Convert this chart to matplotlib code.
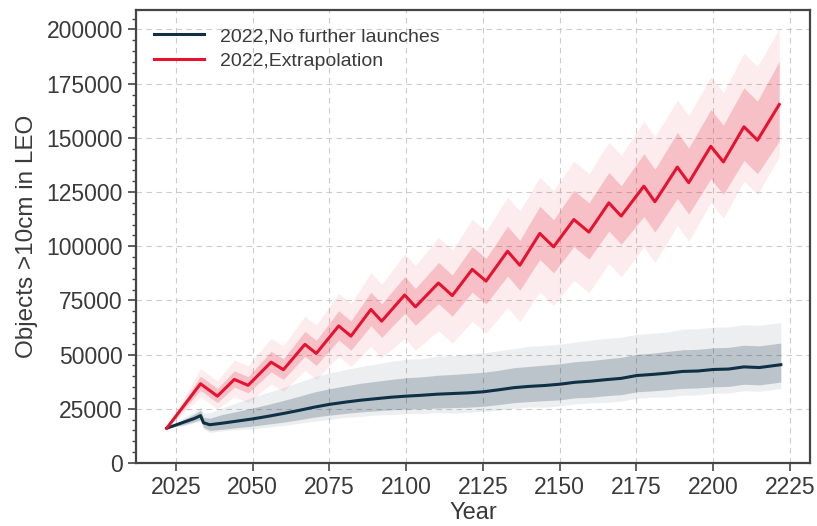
import matplotlib
matplotlib.use("Agg")
import matplotlib.pyplot as plt
from matplotlib.ticker import MultipleLocator
import numpy as np

plt.rcParams['font.family'] = ['Liberation Sans', 'DejaVu Sans']

# extrapolation scenario: mean of the MC runs (peaks / troughs of the solar cycle)
red_years = [2022, 2033, 2038.5, 2044, 2048.5, 2056, 2060, 2067, 2070.7, 2078,
             2082, 2088.5, 2092, 2099.5, 2103, 2110.5, 2115, 2121.5, 2126, 2133,
             2137, 2143.5, 2148, 2154.6, 2159.5, 2166, 2170, 2177.4, 2181, 2188.3,
             2192, 2199.2, 2203.3, 2210, 2214.4, 2221.5]
red_mean = [16000, 36500, 30800, 38500, 35800, 46500, 43000, 54700, 50500, 63200,
            58500, 70800, 65400, 77500, 72000, 83000, 77200, 89300, 83900, 97700,
            91200, 105900, 99700, 112300, 106500, 120000, 113900, 127700, 120500, 136500,
            129300, 146100, 138900, 155100, 148900, 165400]
# spread of the runs around the mean (dense core / faint outliers)
red_in_hi = [0, 3500, 3500, 4000, 4000, 5000, 5000, 6000, 6000, 7000,
             7000, 8000, 8000, 8500, 8500, 9500, 9500, 10500, 10500, 11500,
             11500, 12500, 12500, 13500, 13500, 14000, 14000, 15000, 15000, 16000,
             16000, 17000, 17000, 18000, 18000, 20000]
red_in_lo = [0, 3000, 3000, 3500, 3500, 4500, 4500, 5500, 5500, 6500,
             6500, 7500, 7500, 8500, 8500, 9500, 9500, 10500, 10500, 11500,
             11500, 12000, 12000, 12500, 12500, 13000, 13000, 14000, 14000, 14500,
             14500, 15000, 15000, 15500, 15500, 17000]
red_out_hi = [0, 7000, 7000, 9000, 9000, 11000, 11000, 13000, 13000, 15000,
              15000, 17000, 17000, 19000, 19000, 21000, 21000, 23000, 23000, 25000,
              25000, 26000, 26000, 27000, 27000, 28000, 28000, 30000, 30000, 31000,
              31000, 32000, 32000, 34000, 34000, 35000]
red_out_lo = [0, 6000, 6000, 8000, 8000, 10000, 10000, 12000, 12000, 14000,
              14000, 17000, 17000, 20000, 20000, 22000, 22000, 24000, 24000, 26000,
              26000, 27000, 27000, 28000, 28000, 28000, 28000, 28000, 28000, 27000,
              27000, 26000, 26000, 25000, 25000, 24000]

# no further launches scenario
blue_years = [2022, 2027, 2031, 2033, 2034, 2036,
              2040, 2045, 2050, 2055, 2060, 2065, 2070, 2075, 2080, 2085,
              2090, 2095, 2100, 2105, 2110, 2115, 2120, 2125, 2130, 2135,
              2140, 2145, 2150, 2155, 2160, 2165, 2170, 2175, 2180, 2185,
              2190, 2195, 2200, 2205, 2210, 2215, 2222]
blue_mean = [16000, 18500, 20500, 21800, 18500, 17600,
             18300, 19300, 20300, 21500, 22800, 24200, 25700, 27000, 28000, 28900,
             29600, 30300, 30800, 31200, 31700, 32000, 32300, 32800, 33700, 34700,
             35300, 35700, 36300, 37200, 37700, 38400, 39000, 40300, 40800, 41400,
             42200, 42400, 43100, 43300, 44300, 44000, 45300]
blue_in_hi = [0, 1200, 2000, 2500, 2500, 3000,
              4000, 4500, 5000, 5500, 6000, 6500, 7000, 7200, 7500, 7800,
              8000, 8200, 8500, 8500, 8700, 8800, 9000, 9000, 9000, 9200,
              9200, 9400, 9400, 9500, 9500, 9600, 9700, 9800, 9800, 10000,
              10000, 10000, 10000, 10000, 10000, 10000, 10000]
blue_in_lo = [0, 1000, 1500, 1800, 2200, 2600,
              2800, 3000, 3300, 3600, 4000, 4300, 4600, 5000, 5200, 5400,
              5600, 5800, 6000, 6200, 6400, 6500, 6600, 6700, 6800, 6900,
              7000, 7000, 7200, 7200, 7400, 7400, 7500, 7500, 7600, 7600,
              7800, 7800, 8000, 8000, 8000, 8000, 8000]
blue_out_hi = [0, 2000, 3000, 4000, 4500, 5500,
               7000, 8500, 10000, 11000, 12000, 13000, 14000, 14500, 15000, 15500,
               16000, 16500, 17000, 17000, 17500, 17500, 18000, 18000, 18000, 18000,
               18500, 18500, 18500, 18500, 19000, 19000, 19000, 19000, 19000, 19000,
               19500, 19500, 19500, 19500, 19500, 19500, 19500]
blue_out_lo = [0, 1500, 2000, 2500, 3000, 3500,
               3500, 4000, 4500, 5000, 5500, 6000, 6500, 7000, 7000, 7500,
               7500, 8000, 8000, 8500, 8500, 9000, 9000, 9000, 9500, 9500,
               9500, 10000, 10000, 10000, 10000, 10500, 10500, 10500, 10500, 11000,
               11000, 11000, 11000, 11000, 11000, 11000, 11000]

RED = '#e5132f'
BLUE = '#0f3145'

fig = plt.figure(figsize=(8.17, 5.26), dpi=100)
ax = fig.add_axes([0.1665, 0.12, 0.8249, 0.861])

ry = np.array(red_years); rm = np.array(red_mean)
by = np.array(blue_years); bm = np.array(blue_mean)

ax.fill_between(by, bm - np.array(blue_out_lo), bm + np.array(blue_out_hi),
                color=BLUE, alpha=0.08, lw=0)
ax.fill_between(by, bm - np.array(blue_in_lo), bm + np.array(blue_in_hi),
                color=BLUE, alpha=0.22, lw=0)
ax.fill_between(ry, rm - np.array(red_out_lo), rm + np.array(red_out_hi),
                color=RED, alpha=0.08, lw=0)
ax.fill_between(ry, rm - np.array(red_in_lo), rm + np.array(red_in_hi),
                color=RED, alpha=0.2, lw=0)

ax.plot(by, bm, color=BLUE, lw=2.2, label='2022,No further launches')
ax.plot(ry, rm, color=RED, lw=2.2, label='2022,Extrapolation')

ax.set_xlim(2012, 2231.5)
ax.set_ylim(0, 209000)
ax.set_xticks(np.arange(2025, 2226, 25))
ax.set_yticks(np.arange(0, 200001, 25000))
ax.yaxis.set_minor_locator(MultipleLocator(5000))
ax.grid(True, which='major', linestyle=(0, (5, 4)), color='#cccccc', lw=0.8)
ax.set_axisbelow(True)

for s in ax.spines.values():
    s.set_color('#444444')
    s.set_linewidth(1.6)
ax.tick_params(which='major', direction='out', length=6, width=1.2,
               colors='#444444', labelsize=16.5, labelcolor='#3a3a3a')
ax.tick_params(which='minor', direction='out', length=3, width=1, colors='#444444')
ax.tick_params(axis='x', which='minor', bottom=False)

ax.set_xlabel('Year', fontsize=17, color='#3a3a3a', labelpad=2)
ax.set_ylabel('Objects >10cm in LEO', fontsize=17.5, color='#3a3a3a', labelpad=6)

leg = ax.legend(loc='upper left', frameon=False, fontsize=14,
                handlelength=2.6, borderaxespad=0.5, labelspacing=0.35)
for t in leg.get_texts():
    t.set_color('#3a3a3a')

fig.savefig('out.png', dpi=100)
